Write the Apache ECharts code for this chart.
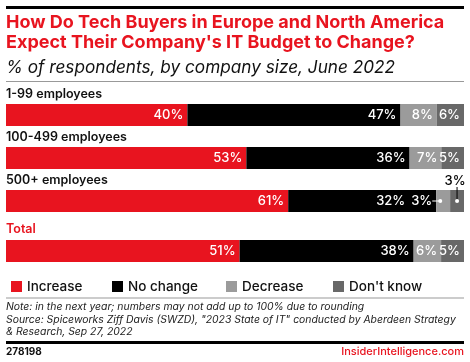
<!DOCTYPE html>
<html><head><meta charset="utf-8">
<script src="https://cdn.jsdelivr.net/npm/echarts@6/dist/echarts.min.js"></script>
<style>html,body{margin:0;padding:0;background:#fff}#c{width:470px;height:362px}</style>
</head><body><div id="c"></div>
<script>
var categories = ['1-99 employees', '100-499 employees', '500+ employees', 'Total'];
var seriesNames = ['Increase', 'No change', 'Decrease', "Don't know"];
var increase = [40, 53, 61, 51];
var noChange = [47, 36, 32, 38];
var decrease = [8, 7, 3, 6];
var dontKnow = [6, 5, 3, 5];
var colors = ['#e8141f', '#000000', '#9b9b9b', '#686868'];

var FONT = 'Inter';
var values = [increase, noChange, decrease, dontKnow];
var barTops = [104, 147, 190, 240];
var labelY = [96, 139, 182, 231];
var barH = 22;

var grids = [], xAxes = [], yAxes = [], series = [], graphics = [];
categories.forEach(function (cat, i) {
  grids.push({left: 6, right: 6, top: barTops[i], height: barH});
  xAxes.push({type: 'value', gridIndex: i, min: 0, max: 100, show: false});
  yAxes.push({type: 'category', gridIndex: i, data: [cat], show: false});
  var sum = values.reduce(function (s, arr) { return s + arr[i]; }, 0);
  values.forEach(function (arr, k) {
    var small = (i === 2 && k >= 2);
    var lbl = {
      show: true, position: 'insideRight', distance: 4, color: '#fff',
      fontFamily: FONT, fontSize: 13, fontWeight: 500,
      formatter: function () { return arr[i] + '%'; }
    };
    if (i === 2 && k === 1) { lbl.offset = [-27, 0]; }
    if (small && k === 2) { lbl.position = 'left'; lbl.distance = 4; }
    if (small && k === 3) { lbl.position = 'top'; lbl.distance = 2; lbl.color = '#000'; lbl.offset = [-2, 0]; }
    series.push({
      type: 'bar', name: seriesNames[k], xAxisIndex: i, yAxisIndex: i,
      stack: 'row' + i, barWidth: barH, itemStyle: {color: colors[k]},
      label: lbl, silent: true, animation: false,
      data: [arr[i] / sum * 100]
    });
  });
  graphics.push({type: 'text', left: 6, top: labelY[i] - 8, style: {
    text: cat, font: '600 12.5px ' + FONT, fill: i === 3 ? '#e8141f' : '#111'}});
});

var legends = seriesNames.map(function (n, k) {
  return {data: [n], left: [6, 107, 221, 328][k], top: 274.5, itemWidth: 11, itemHeight: 11,
    itemGap: 0, icon: 'rect', selectedMode: false,
    textStyle: {fontFamily: FONT, fontSize: 13.5, fontWeight: 500, color: '#111', padding: [0, 0, 0, 0]}};
});

graphics.push(
  {type: 'rect', shape: {x: 6, y: 6, width: 458, height: 3}, style: {fill: '#000'}},
  {type: 'rect', shape: {x: 6, y: 81, width: 458, height: 1}, style: {fill: '#999'}},
  {type: 'rect', shape: {x: 6, y: 297.5, width: 458, height: 1}, style: {fill: '#999'}},
  {type: 'rect', shape: {x: 6, y: 341, width: 458, height: 3}, style: {fill: '#000'}},
  {type: 'text', left: 6, top: 301, style: {
    text: 'Note: in the next year; numbers may not add up to 100% due to rounding\nSource: Spiceworks Ziff Davis (SWZD), "2023 State of IT" conducted by Aberdeen Strategy\n& Research, Sep 27, 2022',
    font: 'italic 10.4px ' + FONT, fill: '#222', lineHeight: 12.5}},
  {type: 'text', left: 6, top: 347, style: {text: '278198', font: '700 10px ' + FONT, fill: '#111'}},
  {type: 'text', right: 6, top: 346, style: {text: 'InsiderIntelligence.com', font: '500 11px ' + FONT, fill: '#e8141f'}}
);

var chart = echarts.init(document.getElementById('c'), null, {renderer: 'canvas'});
chart.setOption({
  animation: false,
  title: [
    {text: "How Do Tech Buyers in Europe and North America\nExpect Their Company's IT Budget to Change?", left: 1, top: 13, padding: [0, 5],
      textStyle: {fontFamily: FONT, fontSize: 18, fontWeight: 700, color: '#e8141f', lineHeight: 20}},
    {text: '% of respondents, by company size, June 2022', left: 1, top: 58, padding: [0, 5],
      textStyle: {fontFamily: FONT, fontSize: 17.2, fontWeight: 400, fontStyle: 'italic', color: '#111', lineHeight: 20}}
  ],
  legend: legends,
  grid: grids, xAxis: xAxes, yAxis: yAxes, series: series,
  graphic: graphics
});

// leader lines and dots for the small 500+ segments, positioned through the axis scales
var r = 2, sum3 = increase[2] + noChange[2] + decrease[2] + dontKnow[2];
var decStart = (increase[2] + noChange[2]) / sum3 * 100;
var dkMid = (increase[2] + noChange[2] + decrease[2] + dontKnow[2] / 2) / sum3 * 100;
var pDec = chart.convertToPixel({gridIndex: 2}, [decStart, categories[2]]);
var pDk = chart.convertToPixel({gridIndex: 2}, [dkMid, categories[2]]);
var extra = [
  {type: 'line', z: 100, shape: {x1: pDec[0] - 4, y1: pDec[1], x2: pDec[0] + 4, y2: pDec[1]}, style: {stroke: '#fff', lineWidth: 1}},
  {type: 'circle', z: 100, shape: {cx: pDec[0] + 4, cy: pDec[1], r: r}, style: {fill: '#fff'}},
  {type: 'line', z: 100, shape: {x1: pDk[0], y1: barTops[2] - 3, x2: pDk[0], y2: pDk[1]}, style: {stroke: '#000', lineWidth: 1}},
  {type: 'circle', z: 100, shape: {cx: pDk[0], cy: pDk[1], r: r}, style: {fill: '#fff'}}
];
chart.setOption({graphic: graphics.concat(extra)});
</script>
</body></html>
